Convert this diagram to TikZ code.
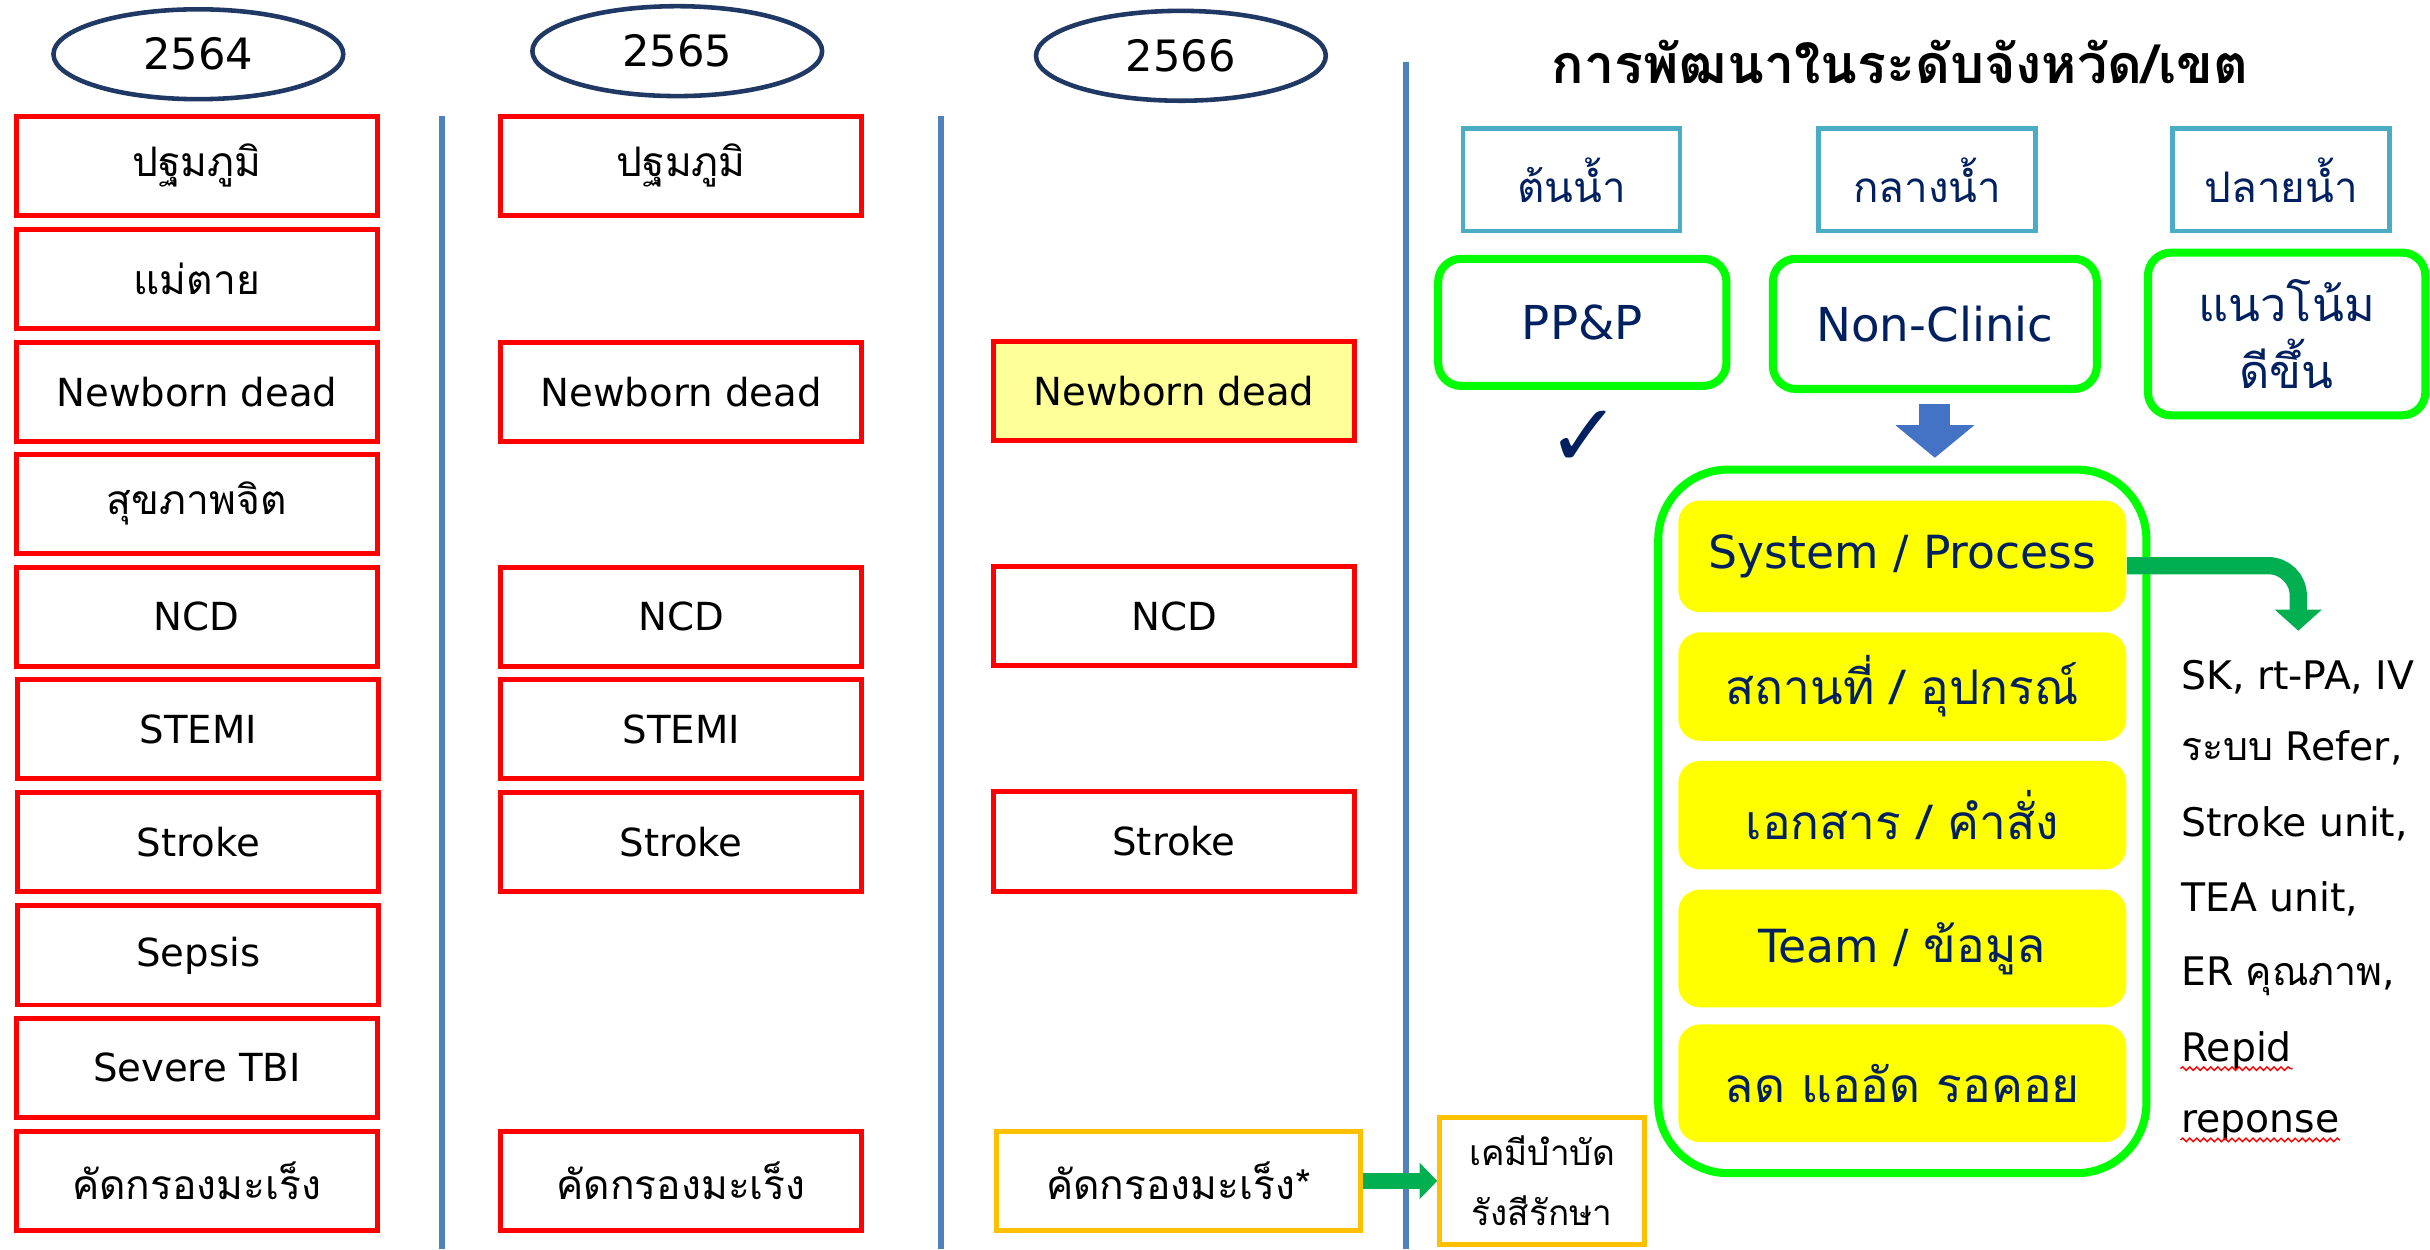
\documentclass[tikz,border=0pt]{standalone}
\usepackage{fontspec}
\setmainfont{DejaVu Sans}
\newfontfamily\thai[Script=Thai]{Loma}
\usetikzlibrary{arrows.meta,decorations.pathmorphing,shapes.geometric}
\definecolor{navy}{HTML}{002060}
\definecolor{ellnavy}{HTML}{1F3864}
\definecolor{vblue}{HTML}{4F81BD}
\definecolor{tealc}{HTML}{4BACC6}
\definecolor{brightgreen}{HTML}{00FF00}
\definecolor{lyellow}{HTML}{FFFF99}
\definecolor{gold}{HTML}{FFC000}
\definecolor{darrow}{HTML}{00B050}
\definecolor{barrow}{HTML}{4472C4}
\definecolor{pyellow}{HTML}{FFFF00}
\newcommand\pxu{0.015497cm}
\newcommand\lf{\fontsize{11}{13}\selectfont}
\newcommand\tl{\fontsize{11.6}{13}\selectfont\thai}
\begin{document}
\begin{tikzpicture}[x=\pxu, y=-\pxu,
  yearell/.style={draw=ellnavy, line width=1.3pt, ellipse, minimum width=187*\pxu, minimum height=58*\pxu, inner sep=0pt, font=\fontsize{12.3}{14}\selectfont},
  redbox/.style={draw=red, line width=1.4pt, fill=white, minimum width=233*\pxu, minimum height=64*\pxu, inner sep=0pt, font=\lf},
  goldbox/.style={draw=gold, line width=1.4pt, fill=white, inner sep=0pt},
  vline/.style={draw=vblue, line width=1.7pt},
  tealbox/.style={draw=tealc, line width=1.3pt, minimum width=140*\pxu, minimum height=66*\pxu, inner sep=0pt, text=navy, font=\fontsize{12}{14}\selectfont},
  gbox/.style={draw=brightgreen, line width=2.3pt, rounded corners=0.23cm, inner sep=0pt, text=navy, font=\fontsize{13.3}{16}\selectfont},
  ybox/.style={fill=pyellow, rounded corners=0.217cm, minimum width=289*\pxu, inner sep=0pt, text=navy, font=\fontsize{13}{16}\selectfont},
  rtext/.style={anchor=base west, inner sep=0pt, font=\fontsize{11.2}{13}\selectfont},
  wavy/.style={draw=red, line width=0.4pt, decorate, decoration={snake, amplitude=0.5pt, segment length=2pt}}
]
\useasboundingbox (0,0) rectangle (1568,806);
\fill[white] (0,0) rectangle (1568,806);

% year ellipses
\node[yearell] (y1) at (128,35) {2564};
\node[yearell] (y2) at (437,33) {2565};
\node[yearell] (y3) at (762,36) {2566};

% vertical separators
\draw[vline] (285,75) -- (285,806);
\draw[vline] (607,75) -- (607,806);
\draw[vline] (907,40) -- (907,806);

% column 2564
\node[redbox] (a1)  at (127,107)   {\tl ปฐมภูมิ};
\node[redbox] (a2)  at (127,180)   {\tl แม่ตาย};
\node[redbox] (a3)  at (127,253)   {Newborn dead};
\node[redbox] (a4)  at (127,325)   {\tl สุขภาพจิต};
\node[redbox] (a5)  at (127,398)   {NCD};
\node[redbox] (a6)  at (128,470.5) {STEMI};
\node[redbox] (a7)  at (128,543.5) {Stroke};
\node[redbox] (a8)  at (128,616.5) {Sepsis};
\node[redbox] (a9)  at (127,689)   {Severe TBI};
\node[redbox] (a10) at (127,762)   {\tl คัดกรองมะเร็ง};

% column 2565
\node[redbox] (b1)  at (439.5,107)   {\tl ปฐมภูมิ};
\node[redbox] (b3)  at (439.5,253)   {Newborn dead};
\node[redbox] (b5)  at (439.5,398)   {NCD};
\node[redbox] (b6)  at (439.5,470.5) {STEMI};
\node[redbox] (b7)  at (439.5,543.5) {Stroke};
\node[redbox] (b10) at (439.5,762)   {\tl คัดกรองมะเร็ง};

% column 2566
\node[redbox, fill=lyellow] (c3) at (757.5,252.5) {Newborn dead};
\node[redbox] (c5) at (757.5,397.5) {NCD};
\node[redbox] (c7) at (757.5,543) {Stroke};
\node[goldbox, minimum width=235*\pxu, minimum height=64*\pxu, font=\lf] (c10) at (760.5,762) {\tl คัดกรองมะเร็ง*};

% chemo box
\node[goldbox, minimum width=132*\pxu, minimum height=82*\pxu, align=center, font=\fontsize{10}{17}\selectfont\thai] (chemo) at (995,762) {เคมีบำบัด\\รังสีรักษา};
\draw[draw=darrow, line width=4.4pt, -{Triangle[width=10pt, length=5pt]}] (c10.east) -- (chemo.west);

% right panel
\node[font=\fontsize{15.3}{18}\selectfont\bfseries\thai] (title) at (1226,40) {การพัฒนาในระดับจังหวัด/เขต};

\node[tealbox] (t1) at (1014,116)   {\thai ต้นน้ำ};
\node[tealbox] (t2) at (1243.5,116) {\thai กลางน้ำ};
\node[tealbox] (t3) at (1472,116)   {\thai ปลายน้ำ};

\node[gbox, minimum width=186*\pxu, minimum height=82*\pxu] (g1) at (1021,208) {PP\&P};
\node[gbox, minimum width=209*\pxu, minimum height=84*\pxu] (g2) at (1248.5,209) {Non-Clinic};
\node[gbox, minimum width=179*\pxu, minimum height=105*\pxu, align=center, font=\fontsize{13.3}{19}\selectfont\thai] (g3) at (1475.5,215.5) {แนวโน้ม\\ดีขึ้น};

\node[text=navy, font=\fontsize{25}{27}\selectfont] (chk) at (1022,283) {✓};

\node[draw=brightgreen, line width=2.3pt, rounded corners=0.70cm, minimum width=315*\pxu, minimum height=454*\pxu] (big) at (1227.5,530) {};

\draw[draw=barrow, line width=8.8pt, -{Triangle[width=22pt, length=9.3pt]}, shorten <=7*\pxu, shorten >=5*\pxu] (g2.south) -- (g2.south |- big.north);

\node[ybox, minimum height=72*\pxu] (sys)   at (1227.5,359) {System / Process};
\node[ybox, minimum height=70*\pxu, font=\fontsize{13.6}{16}\selectfont\thai] (place) at (1227.5,443) {สถานที่ / อุปกรณ์};
\node[ybox, minimum height=70*\pxu, font=\fontsize{13.6}{16}\selectfont\thai] (doc)   at (1227.5,526) {เอกสาร / คำสั่ง};
\node[ybox, minimum height=76*\pxu] (team)  at (1227.5,612) {Team / {\fontsize{13.6}{16}\selectfont\thai ข้อมูล}};
\node[ybox, minimum height=76*\pxu, font=\fontsize{13.6}{16}\selectfont\thai] (wait)  at (1227.5,699) {ลด แออัด รอคอย};

\coordinate (tipA) at (1483,407);
\draw[draw=darrow, line width=4.9pt, rounded corners=0.3cm, -{Triangle[width=13pt, length=6pt]}] ([yshift=-6*\pxu]sys.east) -| (tipA);

\node[rtext] (r1) at (1407,445) {SK, rt-PA, IV};
\node[rtext] (r2) at (1407,491) {{\thai ระบบ} Refer,};
\node[rtext] (r3) at (1407,540) {Stroke unit,};
\node[rtext] (r4) at (1407,588) {TEA unit,};
\node[rtext] (r5) at (1407,636) {ER {\thai คุณภาพ},};
\node[rtext] (r6) at (1407,685) {Repid};
\node[rtext] (r7) at (1407,731) {reponse};
\draw[wavy] ([yshift=-2pt]r6.base west) -- ([yshift=-2pt]r6.base east);
\draw[wavy] ([yshift=-2pt]r7.base west) -- ([yshift=-2pt]r7.base east);
\end{tikzpicture}
\end{document}
